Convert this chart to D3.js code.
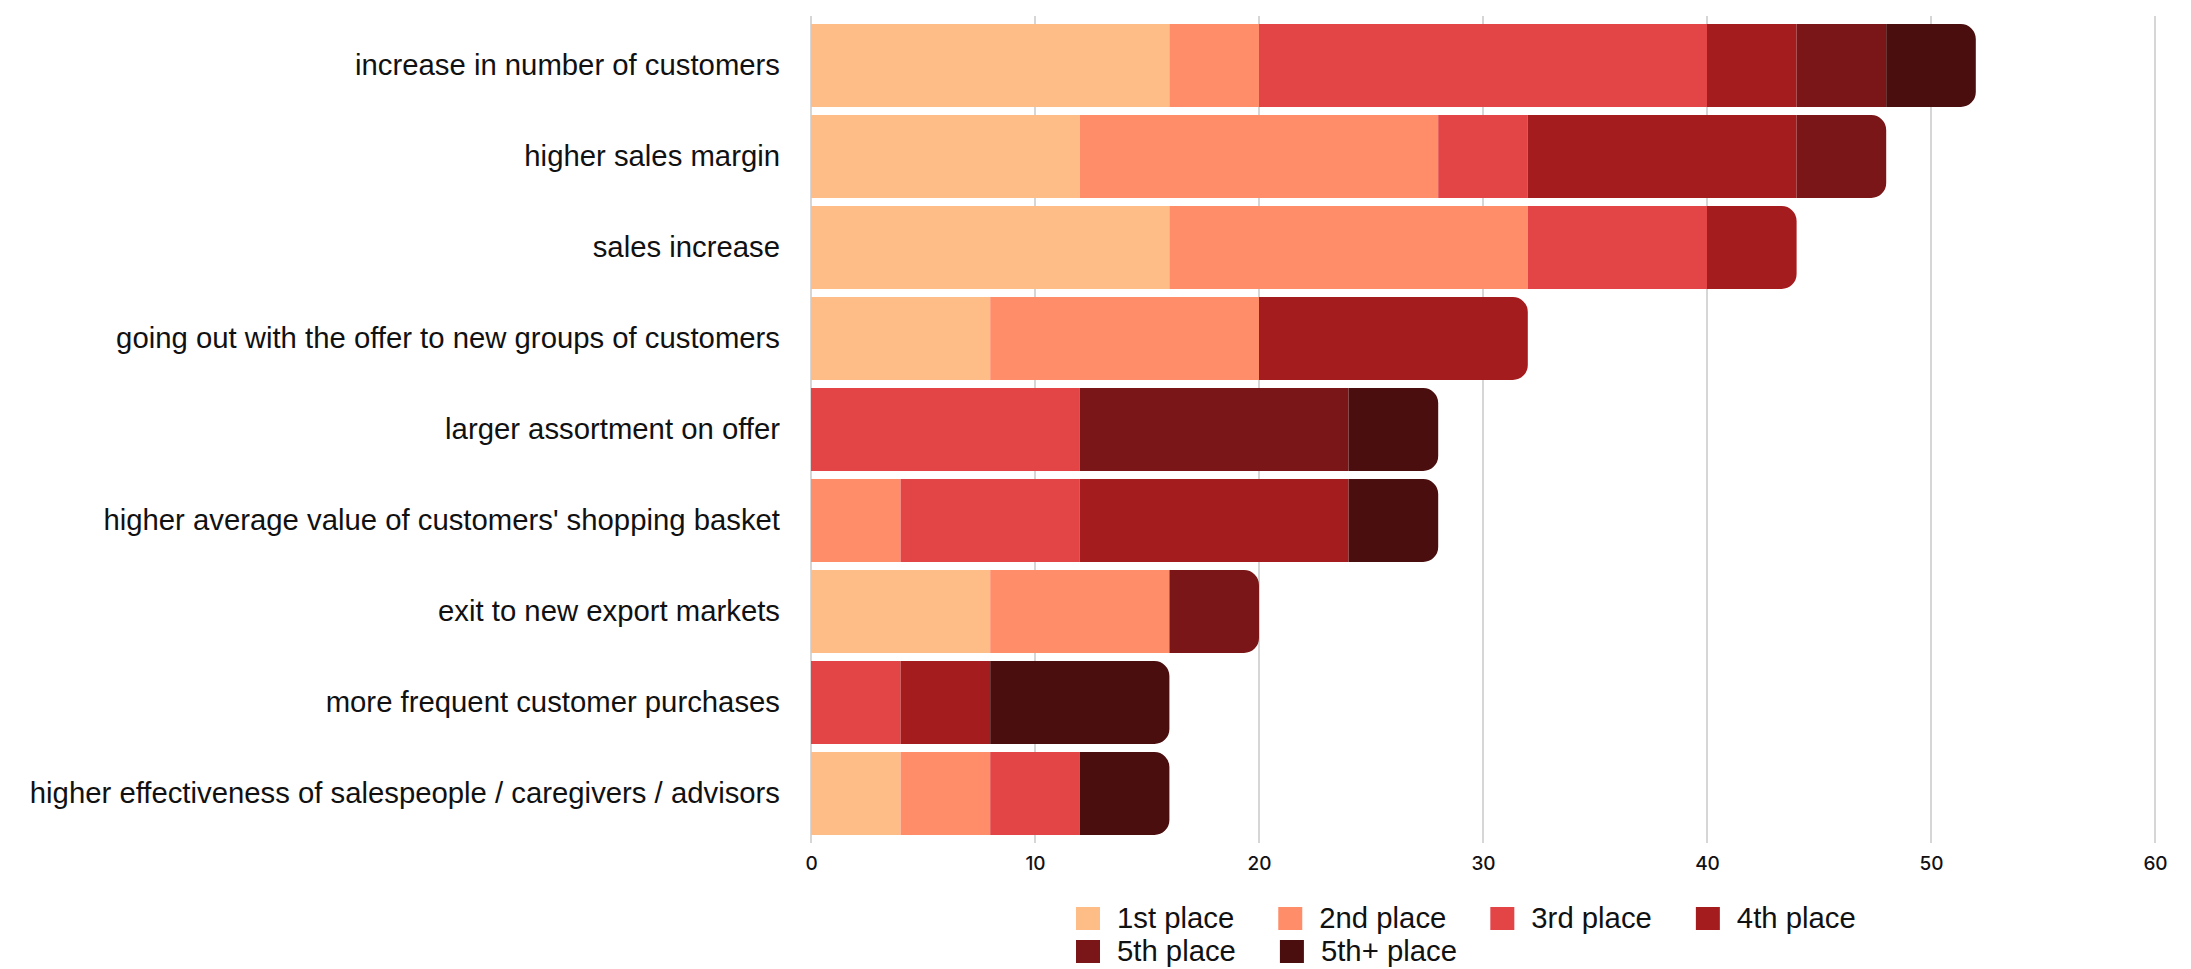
<!DOCTYPE html>
<html>
<head>
<meta charset="utf-8">
<script src="https://cdn.jsdelivr.net/npm/d3@7"></script>
<style>
  html, body { margin: 0; padding: 0; background: #ffffff; }
  svg { display: block; }
</style>
</head>
<body>
<svg id="chart" width="2191" height="969"></svg>
<script>
const categories = [
  "increase in number of customers",
  "higher sales margin",
  "sales increase",
  "going out with the offer to new groups of customers",
  "larger assortment on offer",
  "higher average value of customers' shopping basket",
  "exit to new export markets",
  "more frequent customer purchases",
  "higher effectiveness of salespeople / caregivers / advisors"
];
const seriesNames = ["1st place", "2nd place", "3rd place", "4th place", "5th place", "5th+ place"];
const place1 = [16, 12, 16, 8, 0, 0, 8, 0, 4];
const place2 = [4, 16, 16, 12, 0, 4, 8, 0, 4];
const place3 = [20, 4, 8, 0, 12, 8, 0, 4, 4];
const place4 = [4, 12, 4, 12, 0, 12, 0, 4, 0];
const place5 = [4, 4, 0, 0, 12, 0, 4, 0, 0];
const place5plus = [4, 0, 0, 0, 4, 4, 0, 8, 4];
const xTicks = [0, 10, 20, 30, 40, 50, 60];
const colors = ["#febc86", "#ff8d6a", "#e34446", "#a51c1f", "#7a1618", "#4a0e0e"];

const seriesValues = [place1, place2, place3, place4, place5, place5plus];
const rows = categories.map((c, i) => {
  const r = { category: c };
  seriesNames.forEach((s, k) => { r[s] = seriesValues[k][i]; });
  return r;
});

const svg = d3.select("#chart");
const margin = { left: 811, right: 36, top: 16, bottom: 126 };
const W = 2191, H = 969;

const x = d3.scaleLinear().domain([0, 60]).range([margin.left, W - margin.right]);
const y = d3.scaleBand().domain(categories).range([margin.top, H - margin.bottom]).paddingInner(0.088).paddingOuter(0.088);

// grid
svg.append("g").selectAll("line").data(xTicks).join("line")
  .attr("x1", d => x(d)).attr("x2", d => x(d))
  .attr("y1", margin.top).attr("y2", H - margin.bottom)
  .attr("stroke", "#c8c8c8").attr("stroke-width", 1.5);

// x axis tick labels
const xAxis = d3.axisBottom(x).tickValues(xTicks).tickSize(0).tickPadding(14);
const gx = svg.append("g").attr("transform", `translate(0,${H - margin.bottom})`).call(xAxis);
gx.select(".domain").remove();
gx.selectAll("text").attr("font-family", "Inter, 'Open Sans', sans-serif").attr("font-size", 19)
  .attr("font-weight", 500).attr("fill", "#111");

// y axis labels
const yAxis = d3.axisLeft(y).tickSize(0).tickPadding(31);
const gy = svg.append("g").attr("transform", `translate(${margin.left},0)`).call(yAxis);
gy.select(".domain").remove();
gy.selectAll("text").attr("font-family", "'Liberation Sans', Arial, sans-serif").attr("font-size", 29.3).attr("fill", "#111");

// stacked bars
const stack = d3.stack().keys(seriesNames);
const stacked = stack(rows);
const totals = rows.map(r => d3.sum(seriesNames, s => r[s]));
const R = 15;

function segPath(x0, x1, y0, h, rounded) {
  const w = x1 - x0;
  if (!rounded) return `M${x0},${y0}H${x1}V${y0 + h}H${x0}Z`;
  const r = Math.min(R, w, h / 2);
  return `M${x0},${y0}H${x1 - r}A${r},${r} 0 0 1 ${x1},${y0 + r}V${y0 + h - r}A${r},${r} 0 0 1 ${x1 - r},${y0 + h}H${x0}Z`;
}

svg.append("g").selectAll("g").data(stacked).join("g")
  .attr("fill", (d, i) => colors[i])
  .selectAll("path").data(d => d.map((v, i) => ({ v, i }))).join("path")
  .attr("d", d => {
    const v0 = d.v[0], v1 = d.v[1];
    if (v1 - v0 <= 0) return null;
    const rounded = Math.abs(v1 - totals[d.i]) < 1e-9;
    return segPath(x(v0), x(v1), y(categories[d.i]), y.bandwidth(), rounded);
  });

// legend
const legend = svg.append("g").attr("font-family", "'Liberation Sans', Arial, sans-serif").attr("font-size", 29.3);
const perRow = 4;
const lx0 = 1076, ly0 = 907, rowGap = 33, sq = 23, gap = 18, itemGap = 44;
let cx = lx0;
seriesNames.forEach((s, i) => {
  const row = Math.floor(i / perRow);
  if (i % perRow === 0) cx = lx0;
  const gy0 = ly0 + row * rowGap;
  const g = legend.append("g");
  g.append("rect").attr("x", cx).attr("y", gy0).attr("width", sq + 1).attr("height", sq).attr("fill", colors[i]);
  const t = g.append("text").attr("x", cx + sq + gap).attr("y", gy0 + sq / 2).attr("dy", "0.34em").attr("fill", "#111").text(s);
  cx += sq + gap + t.node().getComputedTextLength() + itemGap;
});
</script>
</body>
</html>
